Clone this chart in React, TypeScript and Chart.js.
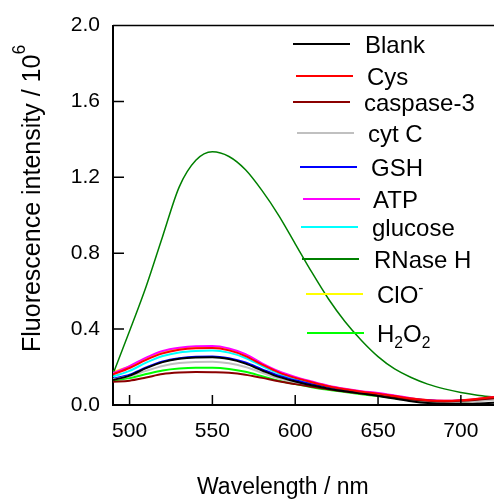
import { useEffect, useRef } from "react";
import Chart from "chart.js/auto";

// emission spectra, one value per 10 nm
const wavelengths = [
  490, 500, 510, 520, 530, 540, 550, 560, 570, 580, 590, 600, 610, 620, 630,
  640, 650, 660, 670, 680, 690, 700, 710, 720,
];

const blank = [0.132, 0.155, 0.194, 0.226, 0.244, 0.251, 0.252, 0.242, 0.218, 0.182, 0.148, 0.124, 0.104, 0.086, 0.072, 0.06, 0.048, 0.034, 0.02, 0.01, 0.006, 0.006, 0.008, 0.012];
const cys = [0.162, 0.195, 0.238, 0.272, 0.291, 0.299, 0.3, 0.288, 0.258, 0.213, 0.172, 0.143, 0.12, 0.099, 0.083, 0.07, 0.06, 0.047, 0.034, 0.025, 0.022, 0.025, 0.033, 0.042];
const caspase3 = [0.123, 0.128, 0.145, 0.163, 0.171, 0.174, 0.173, 0.17, 0.16, 0.143, 0.125, 0.11, 0.096, 0.083, 0.071, 0.06, 0.05, 0.039, 0.029, 0.022, 0.019, 0.022, 0.028, 0.036];
const cytC = [0.135, 0.152, 0.18, 0.206, 0.221, 0.227, 0.228, 0.22, 0.2, 0.17, 0.14, 0.119, 0.101, 0.085, 0.072, 0.061, 0.051, 0.039, 0.027, 0.019, 0.015, 0.016, 0.021, 0.028];
const gsh = [0.138, 0.16, 0.198, 0.23, 0.247, 0.255, 0.256, 0.246, 0.224, 0.188, 0.154, 0.13, 0.11, 0.092, 0.078, 0.066, 0.056, 0.044, 0.032, 0.024, 0.02, 0.022, 0.028, 0.036];
const atp = [0.168, 0.205, 0.25, 0.285, 0.302, 0.31, 0.311, 0.298, 0.268, 0.22, 0.178, 0.148, 0.124, 0.102, 0.086, 0.073, 0.063, 0.05, 0.036, 0.026, 0.022, 0.025, 0.032, 0.042];
const glucose = [0.15, 0.18, 0.223, 0.258, 0.277, 0.285, 0.287, 0.276, 0.248, 0.205, 0.166, 0.139, 0.117, 0.097, 0.081, 0.069, 0.059, 0.046, 0.033, 0.024, 0.02, 0.022, 0.029, 0.038];
const rnaseH = [0.163, 0.39, 0.625, 0.89, 1.15, 1.29, 1.335, 1.31, 1.24, 1.13, 1.0, 0.85, 0.7, 0.56, 0.44, 0.34, 0.255, 0.19, 0.145, 0.11, 0.085, 0.066, 0.052, 0.042];
const clo = [0.175, 0.203, 0.245, 0.278, 0.296, 0.304, 0.305, 0.293, 0.263, 0.216, 0.175, 0.145, 0.122, 0.1, 0.084, 0.071, 0.061, 0.048, 0.035, 0.025, 0.021, 0.024, 0.031, 0.04];
const h2o2 = [0.13, 0.142, 0.163, 0.182, 0.192, 0.196, 0.196, 0.19, 0.175, 0.152, 0.128, 0.11, 0.094, 0.08, 0.068, 0.057, 0.047, 0.036, 0.026, 0.019, 0.016, 0.018, 0.024, 0.032];

// ^x = superscript, _x = subscript
const seriesNames = ["Blank", "Cys", "caspase-3", "cyt C", "GSH", "ATP", "glucose", "RNase H", "ClO^-", "H_2O_2"];
const seriesValues = [blank, cys, caspase3, cytC, gsh, atp, glucose, rnaseH, clo, h2o2];
const seriesColors = ["#000000", "#ff0000", "#8b0000", "#c0c0c0", "#0000ff", "#ff00ff", "#00ffff", "#008000", "#ffff00", "#00ff00"];

const xTicks = [500, 550, 600, 650, 700];
const yTicks = [0, 0.4, 0.8, 1.2, 1.6, 2.0];

const xTitle = "Wavelength / nm";
const yTitle = "Fluorescence intensity / 10^6";

const FONT = '"Liberation Sans", Arial, sans-serif';

// legend layout (row centre y, line start x, text x)
const legendRowY = [44, 76, 102, 133, 167, 199, 227, 259, 294, 333];
const legendLineX = [293, 296, 293, 297, 300, 303, 301, 302, 306, 307];
const legendTextX = [365, 367, 364, 368, 371, 373, 372, 374, 377, 377];

type Seg = { text: string; shift: number };

const parseRich = (s: string): Seg[] => {
  const out: Seg[] = [];
  let buf = "";
  for (let i = 0; i < s.length; i++) {
    const c = s[i];
    if ((c === "^" || c === "_") && i + 1 < s.length) {
      if (buf) out.push({ text: buf, shift: 0 });
      buf = "";
      out.push({ text: s[i + 1], shift: c === "^" ? 1 : -1 });
      i++;
    } else {
      buf += c;
    }
  }
  if (buf) out.push({ text: buf, shift: 0 });
  return out;
};

const drawRich = (
  ctx: CanvasRenderingContext2D,
  s: string,
  x: number,
  y: number,
  size: number,
  raise = 0.5,
  small = 0.65
) => {
  let cx = x;
  for (const seg of parseRich(s)) {
    const fs = seg.shift ? size * small : size;
    ctx.font = `${fs}px ${FONT}`;
    const dy = seg.shift === 1 ? -size * raise : seg.shift === -1 ? size * 0.28 : 0;
    ctx.fillText(seg.text, cx, y + dy);
    cx += ctx.measureText(seg.text).width;
  }
};

const decorations = {
  id: "decorations",
  afterDraw(chart: any) {
    const { ctx, chartArea: a, scales } = chart;
    ctx.save();
    ctx.strokeStyle = "#000";
    ctx.lineWidth = 1.5;
    ctx.beginPath();
    ctx.moveTo(a.left, a.top);
    ctx.lineTo(a.right, a.top);
    // inward tick marks
    for (const v of xTicks) {
      const px = scales.x.getPixelForValue(v);
      ctx.moveTo(px, a.bottom);
      ctx.lineTo(px, a.bottom - 10);
    }
    for (const v of yTicks) {
      const py = scales.y.getPixelForValue(v);
      ctx.moveTo(a.left, py);
      ctx.lineTo(a.left + 11, py);
    }
    ctx.stroke();

    // legend
    ctx.textAlign = "left";
    ctx.textBaseline = "alphabetic";
    ctx.fillStyle = "#000";
    seriesNames.forEach((name, i) => {
      ctx.strokeStyle = seriesColors[i];
      ctx.lineWidth = 1.8;
      ctx.beginPath();
      ctx.moveTo(legendLineX[i], legendRowY[i]);
      ctx.lineTo(legendLineX[i] + 57, legendRowY[i]);
      ctx.stroke();
      drawRich(ctx, name, legendTextX[i], legendRowY[i] + 8.5, 24, 0.4);
    });

    // axis titles
    drawRich(ctx, xTitle, 197, 494, 23);
    ctx.translate(40, 352);
    ctx.rotate(-Math.PI / 2);
    drawRich(ctx, yTitle, 0, 0, 25, 0.6, 0.7);
    ctx.restore();
  },
};

const App = () => {
  const canvasRef = useRef<HTMLCanvasElement | null>(null);

  useEffect(() => {
    if (!canvasRef.current) return;

    const chart = new Chart(canvasRef.current, {
      type: "line",
      data: {
        datasets: seriesValues.map((values, i) => ({
          label: seriesNames[i],
          data: values.map((v, j) => ({ x: wavelengths[j], y: v })),
          borderColor: seriesColors[i],
          borderWidth: i === 7 ? 1.5 : 2,
          pointRadius: 0,
          cubicInterpolationMode: "monotone" as const,
          fill: false,
        })),
      },
      options: {
        animation: false,
        responsive: false,
        devicePixelRatio: 1,
        layout: { padding: { top: 24.5, left: 0, right: 0, bottom: 0 } },
        plugins: {
          legend: { display: false },
          tooltip: { enabled: false },
        },
        scales: {
          x: {
            type: "linear",
            min: 490,
            max: 720,
            afterBuildTicks: (scale: any) => {
              scale.ticks = xTicks.map((value) => ({ value }));
            },
            afterFit: (scale: any) => {
              scale.height = 97;
            },
            grid: { display: false, drawTicks: false },
            border: { display: true, color: "#000", width: 2 },
            ticks: {
              padding: 14,
              color: "#000",
              font: { family: FONT, size: 21 },
              maxRotation: 0,
              callback: (v: any) => String(v),
            },
          },
          y: {
            min: 0,
            max: 2,
            afterBuildTicks: (scale: any) => {
              scale.ticks = yTicks.map((value) => ({ value }));
            },
            afterFit: (scale: any) => {
              scale.width = 113;
            },
            grid: { display: false, drawTicks: false },
            border: { display: true, color: "#000", width: 2 },
            ticks: {
              padding: 13,
              color: "#000",
              font: { family: FONT, size: 21 },
              callback: (v: any) => Number(v).toFixed(1),
            },
          },
        },
      },
      plugins: [decorations],
    });

    return () => {
      chart.destroy();
    };
  }, []);

  return (
    <div style={{ position: "fixed", left: 0, top: 0, width: 494, height: 502, background: "#fff" }}>
      <canvas ref={canvasRef} width={494} height={502} style={{ width: 494, height: 502 }} />
    </div>
  );
};

export default App;
